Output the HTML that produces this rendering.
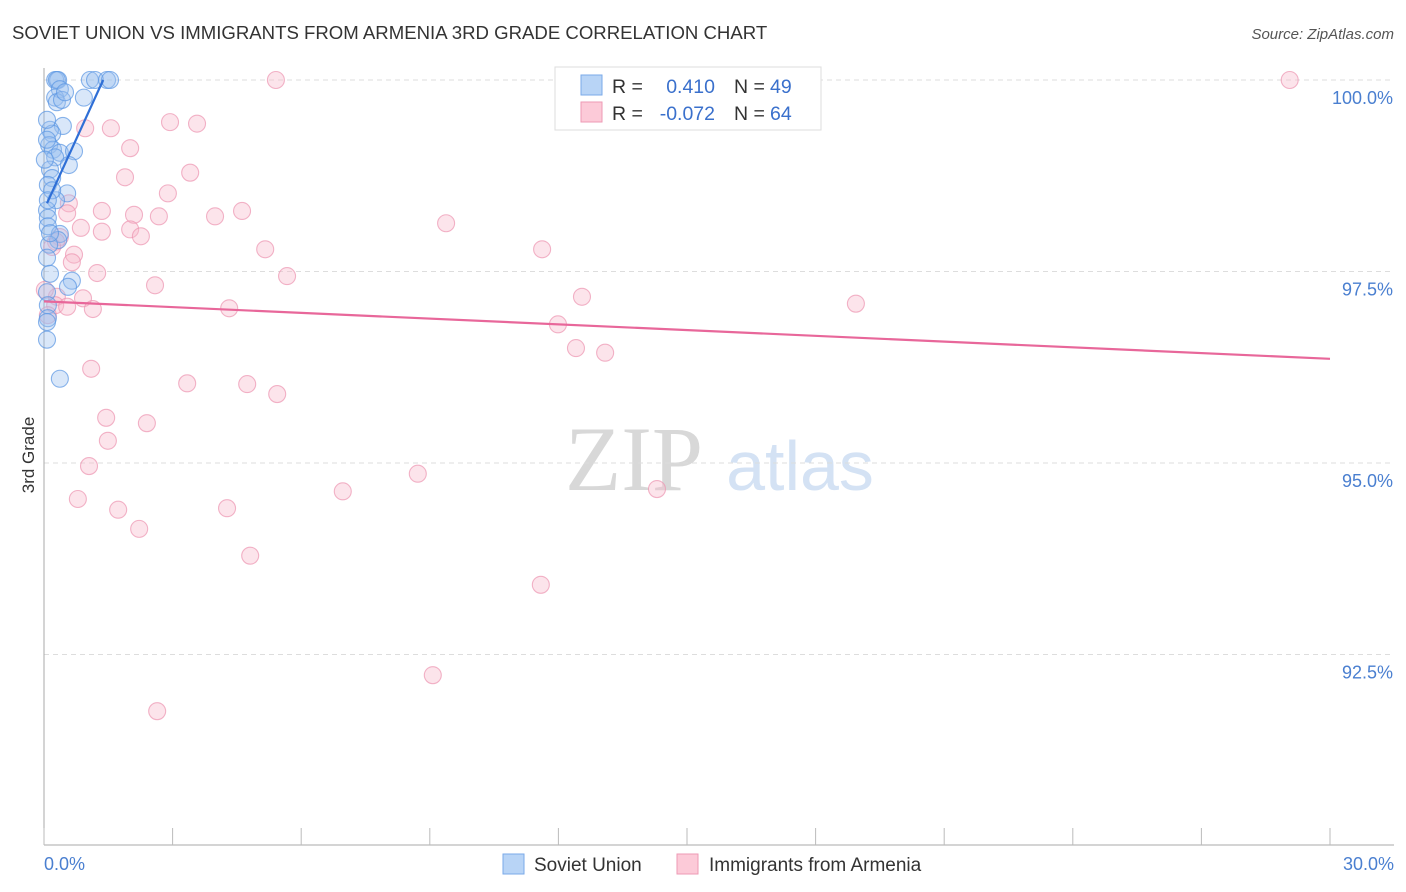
<!DOCTYPE html>
<html><head><meta charset="utf-8"><style>
body{margin:0;background:#fff;font-family:"Liberation Sans",sans-serif}
svg{display:block}
</style></head><body>
<svg id="chart" width="1406" height="892" viewBox="0 0 1406 892">
<text x="12" y="39" font-size="18.6" fill="#333">SOVIET UNION VS IMMIGRANTS FROM ARMENIA 3RD GRADE CORRELATION CHART</text>
<text x="1394" y="39" font-size="15" fill="#555" font-style="italic" text-anchor="end">Source: ZipAtlas.com</text>
<g>
<text x="634" y="490" font-size="92" fill="#d8d8d8" font-family="Liberation Serif" text-anchor="middle">ZIP</text>
<text x="800" y="490" font-size="70" fill="#d4e2f4" text-anchor="middle">atlas</text>
</g>
<g id="grid"></g>
<g id="axes"></g>
<g id="marks"></g>
<text transform="translate(34,455) rotate(-90)" font-size="17" fill="#333" text-anchor="middle">3rd Grade</text>
<g>
<rect x="555" y="67" width="266" height="63" fill="#fff" stroke="#ddd"/>
<rect x="581" y="75" width="21" height="20" fill="#b8d4f6" stroke="#7aaae8"/>
<rect x="581" y="102" width="21" height="20" fill="#fccad8" stroke="#ee9ab4"/>
<text x="612" y="93" font-size="19.5" fill="#333">R =</text>
<text x="715" y="93" font-size="19.5" fill="#3a70cc" text-anchor="end">0.410</text>
<text x="734" y="93" font-size="19.5" fill="#333">N =</text>
<text x="770" y="93" font-size="19.5" fill="#3a70cc">49</text>
<text x="612" y="120" font-size="19.5" fill="#333">R =</text>
<text x="715" y="120" font-size="19.5" fill="#3a70cc" text-anchor="end">-0.072</text>
<text x="734" y="120" font-size="19.5" fill="#333">N =</text>
<text x="770" y="120" font-size="19.5" fill="#3a70cc">64</text>
</g>
<g>
<rect x="503" y="854" width="21" height="20" fill="#b8d4f6" stroke="#7aaae8"/>
<text x="534" y="871" font-size="19" fill="#333">Soviet Union</text>
<rect x="677" y="854" width="21" height="20" fill="#fccad8" stroke="#ee9ab4"/>
<text x="709" y="871" font-size="19" fill="#333">Immigrants from Armenia</text>
</g>
</svg>
<script>
const xTickLabels=["0.0%","30.0%"];
const yTicks=[100,97.5,95,92.5];
const yTickLabels=["100.0%","97.5%","95.0%","92.5%"];
const sovietX=[0.26,0.33,0.30,1.07,1.19,1.47,1.54,0.37,0.26,0.93,0.30,0.44,0.14,0.19,0.12,0.21,0.37,0.70,0.26,0.58,0.14,0.19,0.09,0.54,0.28,0.07,0.09,0.09,0.37,0.33,0.12,0.07,0.14,0.65,0.56,0.07,0.09,0.09,0.07,0.07,0.37,0.14,0.19,0.09,0.42,0.49,0.02,0.07,0.07];
const sovietY=[100,100,100,100,100,100,100,99.88,99.77,99.77,99.71,99.40,99.35,99.30,99.15,99.09,99.05,99.07,98.99,98.89,98.83,98.72,98.63,98.52,98.43,98.30,98.20,98.09,97.99,97.91,97.85,97.68,97.47,97.38,97.30,97.23,97.06,96.89,96.84,96.61,96.10,98.00,98.56,98.43,99.74,99.84,98.96,99.22,99.48];
const armeniaX=[5.41,29.06,0.96,1.56,2.94,3.57,2.01,3.41,1.89,2.89,0.58,0.54,1.35,2.10,2.68,3.99,4.62,9.38,0.86,1.35,2.01,2.26,0.37,0.28,0.19,0.70,5.16,11.62,0.65,1.24,5.67,2.59,0.30,0.91,12.55,18.94,0.26,0.54,1.14,4.32,11.99,12.41,13.09,1.10,3.34,4.74,5.44,1.45,2.40,1.49,1.05,8.72,6.97,14.30,0.79,1.73,4.27,2.22,4.81,11.59,9.07,2.64,0.09,0.02];
const armeniaY=[100,100,99.37,99.37,99.45,99.43,99.11,98.79,98.73,98.52,98.39,98.26,98.29,98.24,98.22,98.22,98.29,98.13,98.07,98.02,98.05,97.96,97.95,97.89,97.82,97.72,97.79,97.79,97.62,97.48,97.44,97.32,97.17,97.15,97.17,97.08,97.06,97.04,97.01,97.02,96.81,96.50,96.44,96.23,96.04,96.03,95.90,95.59,95.52,95.29,94.96,94.86,94.63,94.66,94.53,94.39,94.41,94.14,93.79,93.41,92.23,91.76,96.93,97.26];
const sovietTrend=[[0.07,98.39],[1.38,100]];
const armeniaTrend=[[0,97.11],[30,96.36]];
const NS="http://www.w3.org/2000/svg";
const X0=44,X1=1330,XMIN=0,XMAX=30,Y0=80,PXPER=76.6;
const xs=v=>X0+(v-XMIN)/(XMAX-XMIN)*(X1-X0);
const ys=v=>Y0+(100-v)*PXPER;
function mk(tag,attrs,parent){const e=document.createElementNS(NS,tag);for(const k in attrs)e.setAttribute(k,attrs[k]);parent.appendChild(e);return e;}
const grid=document.getElementById('grid'),axes=document.getElementById('axes'),marks=document.getElementById('marks');
yTicks.forEach((t,i)=>{
 const l=mk('line',{x1:44,x2:1394,y1:ys(t),y2:ys(t),stroke:'#ddd','stroke-dasharray':'5,4'},grid);
 
 
 const tx=mk('text',{x:1393,y:ys(t)+24,'font-size':18,fill:'#4a7fd0','text-anchor':'end'},axes);
 tx.textContent=yTickLabels[i];
 
 
});
const ya=mk('line',{x1:44,x2:44,y1:68,y2:845,stroke:'#aaa'},axes);


const xa=mk('line',{x1:44,x2:1394,y1:845,y2:845,stroke:'#aaa'},axes);


for(let v=0;v<=30;v+=3){
 const t=mk('line',{x1:xs(v),x2:xs(v),y1:828,y2:845,stroke:'#bbb'},axes);
 
 
}
[[0,'start',44],[30,'end',1394]].forEach((a,i)=>{
 const t=mk('text',{x:a[2],y:870,'font-size':18,fill:'#4a7fd0','text-anchor':a[1]},axes);
 t.textContent=xTickLabels[i];
 
 
});
function dots(X,Y,fill,stroke,name){X.forEach((x,i)=>{
 const c=mk('circle',{cx:xs(x),cy:ys(Y[i]),r:8.5,fill:fill,'fill-opacity':0.38,stroke:stroke,'stroke-width':1.1,'stroke-opacity':0.7},marks);
 
 
});}
dots(armeniaX,armeniaY,'#f7b8cb','#ec94b0','armenia-point');
dots(sovietX,sovietY,'#9cc0ef','#5a96e2','soviet-point');
function trend(T,col,name){const l=mk('line',{x1:xs(T[0][0]),y1:ys(T[0][1]),x2:xs(T[1][0]),y2:ys(T[1][1]),stroke:col,'stroke-width':2.2},marks);
 
 }
trend(armeniaTrend,'#e8679a','armenia-trend-line');
trend(sovietTrend,'#2f6fd6','soviet-trend-line');
</script>
</body></html>
